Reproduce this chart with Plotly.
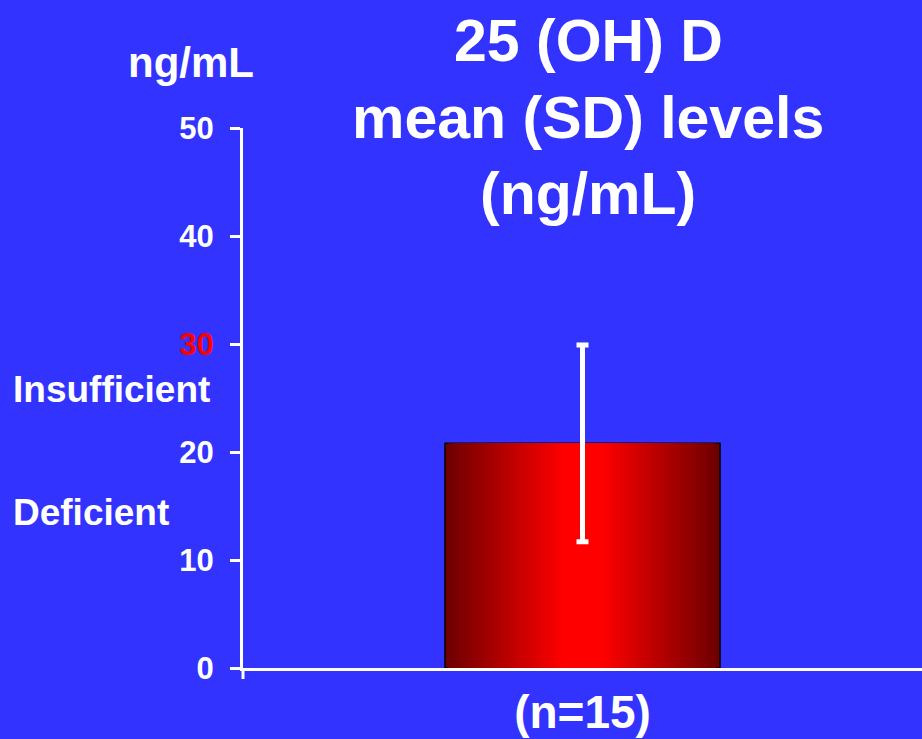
import plotly.graph_objects as go

# ---- data ----
categories = ["(n=15)"]
mean_values = [20.8]
sd_values = [9.1]
y_tick_values = [0, 10, 20, 30, 40, 50]
y_tick_labels = ["0", "10", "20", "<span style='color:#ff0000'>30</span>", "40", "50"]
title_lines = ["25 (OH) D", "mean (SD) levels", "(ng/mL)"]
unit_label = "ng/mL"
zone_labels = ["Insufficient", "Deficient"]

W, H = 922, 739
ML, MR, MT, MB = 243, 0, 128, 71
PW, PH = W - ML - MR, H - MT - MB
BG = "#3333ff"
FONT = "Liberation Sans"

def px_x(x):
    return (x - ML) / PW

def px_y(y):
    return (H - MB - y) / PH

fig = go.Figure()

# gradient bar built from overlaid bars of decreasing width
bar_width = 0.405
n_layers = 36
dark = (110, 0, 0)
bright = (255, 0, 0)
plateau = 0.15  # fraction of full width that is fully bright
for i in range(n_layers):
    t = i / (n_layers - 1)
    w = bar_width * (1 - t * (1 - plateau))
    c = tuple(int(dark[k] + (bright[k] - dark[k]) * t) for k in range(3))
    fig.add_trace(go.Bar(
        x=categories, y=mean_values, width=w,
        marker=dict(color="rgb(%d,%d,%d)" % c,
                    line=dict(color="black", width=1.5 if i == 0 else 0)),
        showlegend=False, hoverinfo="skip",
    ))

# error bar on top
fig.add_trace(go.Bar(
    x=categories, y=mean_values, width=bar_width,
    marker=dict(color="rgba(0,0,0,0)", line=dict(width=0)),
    error_y=dict(type="data", array=sd_values, visible=True,
                 color="white", thickness=5, width=6),
    showlegend=False, hoverinfo="skip",
))

fig.update_layout(
    width=W, height=H,
    margin=dict(l=ML, r=MR, t=MT, b=MB, autoexpand=False),
    paper_bgcolor=BG, plot_bgcolor=BG,
    barmode="overlay",
    font=dict(family=FONT, color="white"),
    xaxis=dict(
        showgrid=False, zeroline=False, automargin=False,
        showline=True, linecolor="white", linewidth=3,
        ticks="", tickfont=dict(family=FONT, size=46, color="white", weight="bold"),
        ticklabelstandoff=2,
        range=[-0.5, 0.5],
    ),
    yaxis=dict(
        range=[0, 50], showgrid=False, zeroline=False, automargin=False,
        showline=True, linecolor="white", linewidth=3,
        ticks="outside", ticklen=10, tickwidth=3, tickcolor="white",
        tickvals=y_tick_values, ticktext=y_tick_labels,
        tickfont=dict(family=FONT, size=31, color="white", weight="bold"),
        ticklabelstandoff=10,
    ),
)

# small tick below the x-axis at its left end
fig.add_shape(type="line", xref="paper", yref="paper",
              x0=0, x1=0, y0=0, y1=px_y(679),
              line=dict(color="white", width=3))

# title lines
for text, cy in zip(title_lines, [41, 118, 194]):
    fig.add_annotation(text=text, xref="paper", yref="paper",
                       x=px_x(588), y=px_y(cy), xanchor="center", yanchor="middle",
                       showarrow=False,
                       font=dict(family=FONT, size=59, color="white", weight="bold"))

fig.add_annotation(text=unit_label, xref="paper", yref="paper",
                   x=px_x(191), y=px_y(63), xanchor="center", yanchor="middle",
                   showarrow=False,
                   font=dict(family=FONT, size=42, color="white", weight="bold"))

for text, cy in zip(zone_labels, [389, 512]):
    fig.add_annotation(text=text, xref="paper", yref="paper",
                       x=px_x(11), y=px_y(cy), xanchor="left", yanchor="middle",
                       showarrow=False,
                       font=dict(family=FONT, size=37, color="white", weight="bold"))

fig.write_html("out.html")
